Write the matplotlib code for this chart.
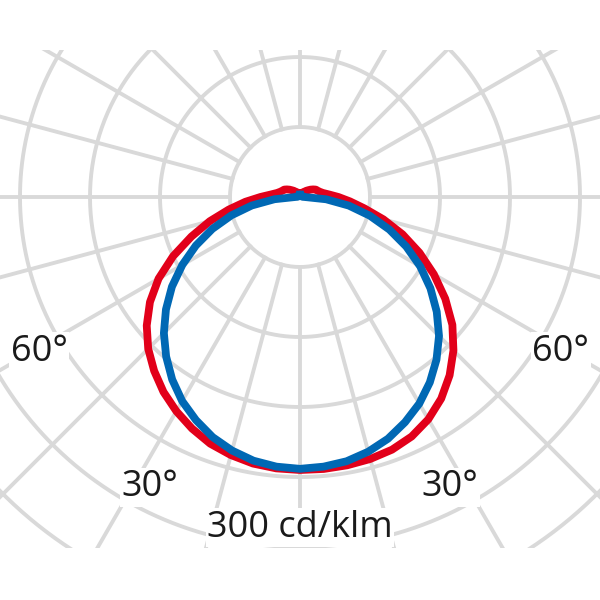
import numpy as np
import matplotlib.pyplot as plt

# ----------------------------------------------------------------------
# Luminous intensity distribution (cd/klm), gamma measured from nadir
gamma = np.arange(0, 185, 5)

red_c0 = [234, 234, 233.5, 232.5, 230.5, 226.5, 220, 211, 199.5, 186, 170.5, 152, 132.5, 113, 93.5, 74, 56, 43, 33,
          25, 20, 17.5, 16, 15, 13, 11, 9, 7.5, 6, 5, 4.5, 4, 3.5, 3.5, 3.5, 3.5, 3.5]
red_c180 = [234, 233.5, 232, 229, 225, 219, 212, 204, 194.5, 184, 171.5, 157, 140, 120, 99, 80, 62, 47, 34,
            25, 20, 17.5, 16, 15, 13, 11, 9, 7.5, 6, 5, 4.5, 4, 3.5, 3.5, 3.5, 3.5, 3.5]
blue_c90 = [233, 232, 230, 226, 220.5, 213, 204.5, 194, 182, 168.5, 153, 136.5, 119, 100.5, 81.5, 62, 42.5, 22.5, 4,
            2, 2, 2, 2, 2, 2, 2, 2, 2, 2, 2, 2, 2, 2, 2, 2, 2, 2]
blue_c270 = [233, 232, 229.5, 225, 219, 211, 202, 191, 178.5, 165, 150, 134, 116.5, 98.5, 80, 61, 42, 22, 4,
             2, 2, 2, 2, 2, 2, 2, 2, 2, 2, 2, 2, 2, 2, 2, 2, 2, 2]

ring_values = [60, 120, 180, 240, 300, 360]
spoke_angles = np.arange(0, 360, 15)

angle_labels = ['60°', '60°', '30°', '30°']
label_angles = [-59.3, 59.3, -27.35, 27.35]
label_radius = [260, 260, 280, 280]
scale_label = '300 cd/klm'

plt.rcParams['font.family'] = ['Open Sans', 'DejaVu Sans']

grid_color = '#d9d9d9'
red = '#e2001a'
blue = '#0068b4'


def to_xy(g_right, i_right, i_left):
    # join left (negative gamma) and right half into one closed curve
    g = np.concatenate([-g_right[::-1], g_right[1:]])
    i = np.concatenate([np.array(i_left)[::-1], np.array(i_right)[1:]])
    rad = np.radians(g)
    return i * np.sin(rad), -i * np.cos(rad)


fig = plt.figure(figsize=(6, 6), dpi=100)
# axes box is the visible grid area, 350 px = 300 cd/klm
k = 300 / 350
ax = fig.add_axes([0, 52 / 600, 1, 498 / 600])
ax.set_xlim(-300 * k, 300 * k)
ax.set_ylim(-351 * k, 147 * k)
ax.axis('off')

# ----------------------------------------------------------------------
# polar grid
t = np.linspace(0, 2 * np.pi, 500)
for r in ring_values:
    ax.plot(r * np.sin(t), r * np.cos(t), color=grid_color, lw=2.8, zorder=1)
for a in spoke_angles:
    ar = np.radians(a)
    ax.plot([60 * np.sin(ar), 700 * np.sin(ar)], [60 * np.cos(ar), 700 * np.cos(ar)],
            color=grid_color, lw=2.8, zorder=1)

# ----------------------------------------------------------------------
# curves
x, y = to_xy(gamma, red_c0, red_c180)
ax.plot(x, y, color=red, lw=5.6, zorder=3, solid_joinstyle='round')
x, y = to_xy(gamma, blue_c90, blue_c270)
ax.plot(x, y, color=blue, lw=5.6, zorder=4, solid_joinstyle='round')

# ----------------------------------------------------------------------
# labels
for lab, a, r in zip(angle_labels, label_angles, label_radius):
    ar = np.radians(a)
    ax.text(r * np.sin(ar), -r * np.cos(ar), lab, fontsize=26, color='#1a1a1a',
            ha='center', va='center', zorder=5,
            bbox=dict(facecolor='white', edgecolor='none', pad=1))
ax.text(0, -283.6, scale_label, fontsize=26, color='#1a1a1a', ha='center', va='center', zorder=5,
        bbox=dict(facecolor='white', edgecolor='none', pad=1))

plt.savefig('out.png', dpi=100)
